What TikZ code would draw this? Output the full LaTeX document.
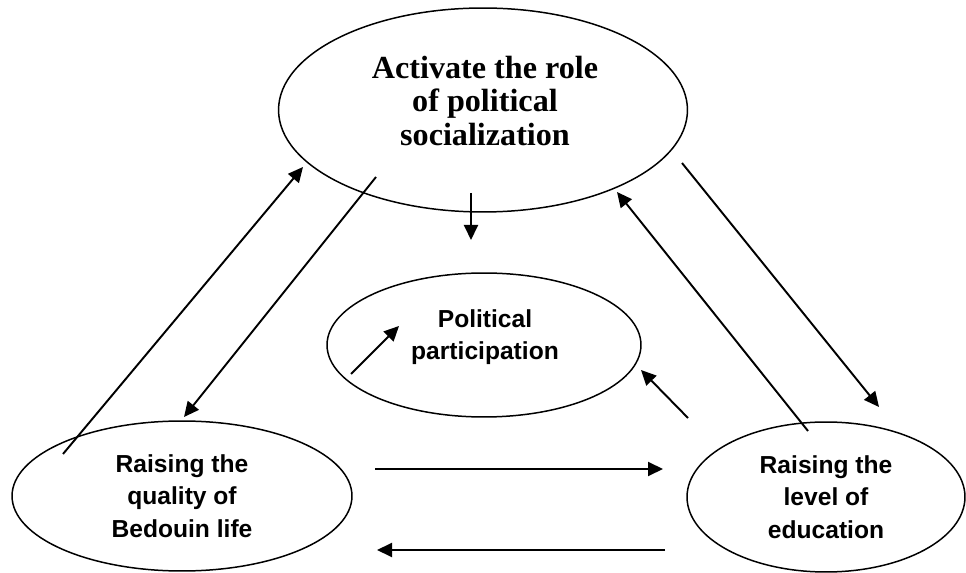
\documentclass[tikz,border=0pt]{standalone}
\usepackage{fontspec}
\setmainfont{Liberation Serif}
\newfontfamily\arialfont{Liberation Sans}
\usetikzlibrary{arrows.meta,shapes.geometric}
\tikzset{>/.tip={Triangle[length=3mm,width=2.8mm]},
  oval/.style={draw,ellipse,line width=0.85pt,inner sep=0pt,align=center},
  serifbold/.style={font=\fontsize{18.3}{18.8}\selectfont\bfseries,align=center},
  sansbold/.style={font=\fontsize{14}{18.4}\selectfont\arialfont\bfseries,align=center},
  flow/.style={->,line width=1.1pt}}

\begin{document}
\begin{tikzpicture}[x=0.02cm,y=-0.02cm]
\useasboundingbox (0,0) rectangle (966,573);
\node[oval,minimum width=8.18cm,minimum height=4.08cm] (soc) at (483,110) {};
\node[serifbold] (soctext) at (485,101) {Activate the role\\of political\\socialization};
\node[oval,minimum width=6.28cm,minimum height=2.88cm] (part) at (484,345) {};
\node[sansbold] (parttext) at (485,337) {Political\\participation};
\node[oval,sansbold,minimum width=6.8cm,minimum height=3cm] (life) at (182,496) {Raising the\\quality of\\Bedouin life};
\node[oval,sansbold,minimum width=5.56cm,minimum height=3cm] (edu) at (826,497) {Raising the\\level of\\education};

% free ends of the arrows
\coordinate (l1) at (63,454);   \coordinate (s1) at (303,167);
\coordinate (s2) at (376,177);  \coordinate (l2) at (184,417);
\coordinate (s3) at (471,193);  \coordinate (p3) at (471,240);
\coordinate (s4) at (682,163);  \coordinate (e4) at (879,407);
\coordinate (e5) at (808,431);  \coordinate (s5) at (617,192);
\coordinate (e6) at (688,418);  \coordinate (p6) at (641,370);
\coordinate (p7a) at (351,374); \coordinate (p7b) at (399,326);
\coordinate (l8) at (375,469);  \coordinate (e8) at (663,469);
\coordinate (e9) at (665,550);  \coordinate (l9) at (377,550);

\draw[flow] (l1) to (s1);
\draw[flow] (s2) to (l2);
\draw[flow] (s3) to (p3);
\draw[flow] (s4) to (e4);
\draw[flow] (e5) to (s5);
\draw[flow] (e6) to (p6);
\draw[flow] (p7a) to (p7b);
\draw[flow] (l8) to (e8);
\draw[flow] (e9) to (l9);
\end{tikzpicture}
\end{document}
